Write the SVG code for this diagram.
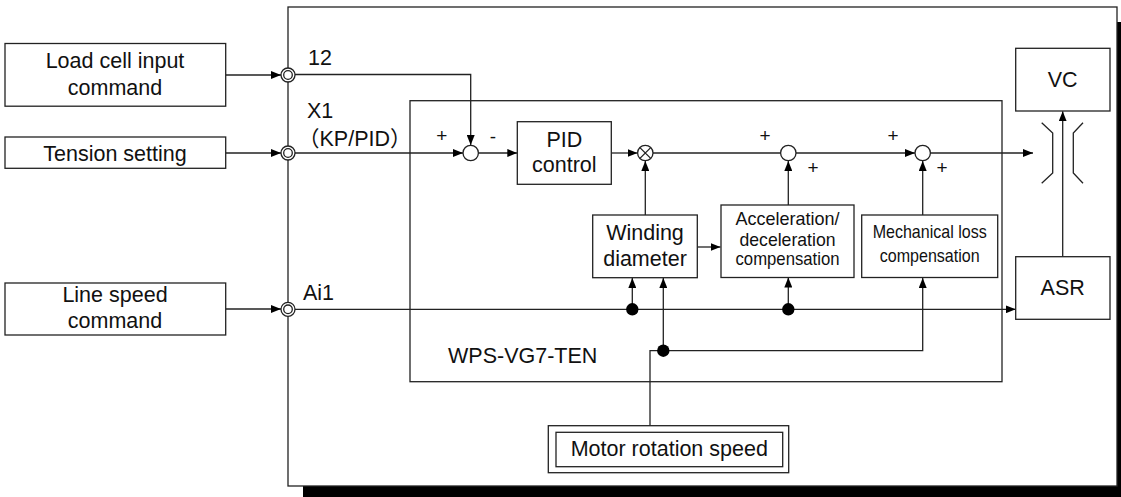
<svg xmlns="http://www.w3.org/2000/svg" width="1121" height="497" viewBox="0 0 1121 497">
<defs>
<style>
.b{fill:#fff;stroke:#222;stroke-width:1.3}
.l{fill:none;stroke:#222;stroke-width:1.3}
.t{font-family:"Liberation Sans",Arial,sans-serif;font-size:21.5px;fill:#111;text-anchor:middle}
.s{font-family:"Liberation Sans",Arial,sans-serif;font-size:19px;fill:#111;text-anchor:middle}
.d{fill:#000}
</style>
<marker id="a" viewBox="0 0 10 8" refX="10" refY="4" markerWidth="10" markerHeight="8" markerUnits="userSpaceOnUse" orient="auto"><path d="M0,0L10,4L0,8z" fill="#000"/></marker>
</defs>
<rect width="1121" height="497" fill="#fff"/>
<g id="frame">
<rect x="303" y="22" width="830" height="480" fill="#000"/>
<rect x="288" y="7" width="829" height="479" class="b"/>
</g>
<g id="wps">
<rect x="410" y="100.7" width="592" height="281" class="b"/>
<text x="448" y="363" class="t" style="text-anchor:start">WPS-VG7-TEN</text>
</g>
<g id="connectors">
<path class="l" d="M225.7,75H281" marker-end="url(#a)"/>
<path class="l" d="M225.7,153H281" marker-end="url(#a)"/>
<path class="l" d="M225.7,309H281" marker-end="url(#a)"/>
<path class="l" d="M295,74.5H470.7V145" marker-end="url(#a)"/>
<path class="l" d="M295,153H463" marker-end="url(#a)"/>
<path class="l" d="M478.5,153H517.3" marker-end="url(#a)"/>
<path class="l" d="M611.3,153H637.5" marker-end="url(#a)"/>
<path class="l" d="M653,153H780.5"/>
<path class="l" d="M796,153H915" marker-end="url(#a)"/>
<path class="l" d="M930.5,153H1033" marker-end="url(#a)"/>
<path class="l" d="M645.3,215V161" marker-end="url(#a)"/>
<path class="l" d="M788.3,205V161" marker-end="url(#a)"/>
<path class="l" d="M922.7,215V161" marker-end="url(#a)"/>
<path class="l" d="M697.3,247H720.5" marker-end="url(#a)"/>
<path class="l" d="M295,309.3H1015.7" marker-end="url(#a)"/>
<path class="l" d="M632.3,309.3V278" marker-end="url(#a)"/>
<path class="l" d="M788.3,309.3V277.5" marker-end="url(#a)"/>
<path class="l" d="M650,425.7V350.7H922.7V278" marker-end="url(#a)"/>
<path class="l" d="M663.3,350.7V278" marker-end="url(#a)"/>
<path class="l" d="M1062.7,256.7V111.3" marker-end="url(#a)"/>
<path class="l" d="M1041.7,122.7L1052.7,133V173L1041.7,183.3"/>
<path class="l" d="M1083,122.7L1073.3,133V173L1083,183.3"/>
<circle cx="632.3" cy="309.3" r="6.2" class="d"/>
<circle cx="788.3" cy="309.3" r="6.2" class="d"/>
<circle cx="663.3" cy="350.7" r="6.2" class="d"/>
</g>
<g id="terminals">
<circle cx="288" cy="75" r="7" class="b"/><circle cx="288" cy="75" r="4.3" class="b"/>
<circle cx="288" cy="153" r="7" class="b"/><circle cx="288" cy="153" r="4.3" class="b"/>
<circle cx="288" cy="309.3" r="7" class="b"/><circle cx="288" cy="309.3" r="4.3" class="b"/>
<text x="308" y="65" class="t" style="text-anchor:start">12</text>
<text x="307" y="118" class="t" style="text-anchor:start">X1</text>
<text x="298" y="146" class="t" style="text-anchor:start;font-family:'Liberation Sans','Noto Sans CJK JP',sans-serif">（KP/PID）</text>
<text x="303" y="300" class="t" style="text-anchor:start">Ai1</text>
</g>
<g id="load-cell">
<rect x="5" y="43.5" width="220.7" height="62.7" class="b"/>
<text x="115" y="68" class="t">Load cell input</text>
<text x="115" y="95" class="t">command</text>
</g>
<g id="tension">
<rect x="5" y="137" width="220.7" height="31.3" class="b"/>
<text x="115" y="160.5" class="t">Tension setting</text>
</g>
<g id="line-speed">
<rect x="5" y="283" width="220.7" height="52" class="b"/>
<text x="115" y="301.5" class="t">Line speed</text>
<text x="115" y="328" class="t">command</text>
</g>
<g id="sum1">
<circle cx="470.7" cy="153" r="7.7" class="b"/>
<text x="441.7" y="142" class="s">+</text>
<text x="493" y="143" class="s">-</text>
</g>
<g id="pid">
<rect x="517.3" y="121.7" width="94" height="62.6" class="b"/>
<text x="564.3" y="146.7" class="t">PID</text>
<text x="564.3" y="172" class="t">control</text>
</g>
<g id="mult">
<circle cx="645.3" cy="153" r="7.7" class="b"/>
<path class="l" d="M639.9,147.6L650.7,158.4M650.7,147.6L639.9,158.4"/>
</g>
<g id="sum2">
<circle cx="788.3" cy="153" r="7.7" class="b"/>
<text x="765" y="142" class="s">+</text>
<text x="813" y="173.5" class="s">+</text>
</g>
<g id="sum3">
<circle cx="922.7" cy="153" r="7.7" class="b"/>
<text x="893" y="142" class="s">+</text>
<text x="942" y="173.5" class="s">+</text>
</g>
<g id="winding">
<rect x="592.7" y="215" width="104.6" height="62.7" class="b"/>
<text x="645" y="240" class="t">Winding</text>
<text x="645" y="265.5" class="t">diameter</text>
</g>
<g id="accel">
<rect x="721" y="205" width="133" height="72.5" class="b"/>
<text x="787.5" y="224.5" class="t" style="font-size:18.5px" textLength="104" lengthAdjust="spacingAndGlyphs">Acceleration/</text>
<text x="787.5" y="245.5" class="t" style="font-size:18.5px" textLength="96" lengthAdjust="spacingAndGlyphs">deceleration</text>
<text x="787.5" y="265" class="t" style="font-size:18.5px" textLength="104" lengthAdjust="spacingAndGlyphs">compensation</text>
</g>
<g id="mech">
<rect x="861.7" y="215" width="136" height="62.5" class="b"/>
<text x="929.7" y="238" class="t" style="font-size:19px" textLength="114" lengthAdjust="spacingAndGlyphs">Mechanical loss</text>
<text x="929.7" y="261.5" class="t" style="font-size:19px" textLength="100" lengthAdjust="spacingAndGlyphs">compensation</text>
</g>
<g id="vc">
<rect x="1015.7" y="48.3" width="94.3" height="62.7" class="b"/>
<text x="1062.7" y="87.3" class="t">VC</text>
</g>
<g id="asr">
<rect x="1015.7" y="256.7" width="94.3" height="62.6" class="b"/>
<text x="1062.7" y="295" class="t">ASR</text>
</g>
<g id="motor">
<rect x="548.3" y="425.7" width="240.4" height="47" class="b"/>
<rect x="556" y="432.3" width="226.7" height="34.4" class="b"/>
<text x="669.3" y="456" class="t">Motor rotation speed</text>
</g>
</svg>
